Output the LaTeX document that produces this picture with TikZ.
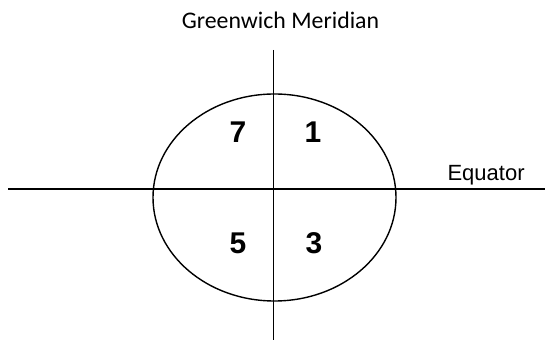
\documentclass[tikz,border=0pt]{standalone}
\usepackage{fontspec}
\setmainfont{Liberation Sans}
\newfontfamily\calibrifont{Carlito}
\usetikzlibrary{positioning}

\begin{document}
\begin{tikzpicture}[x=1pt,y=1pt,
      axis/.style={draw,line width=1.4pt},
      quad/.style={font=\fontsize{30}{30}\selectfont\bfseries,anchor=base},
      lbl/.style={font=\fontsize{22}{22}\selectfont,anchor=base}
    ]
    \useasboundingbox (0,0) rectangle (545,344);

    \coordinate (north) at (273.5,294);
    \coordinate (south) at (273.5,4);
    \coordinate (west) at (8,155);
    \coordinate (east) at (545,155);

    \draw[axis] (274.5,146.5) ellipse [x radius=121.5, y radius=103.5];
    \draw[axis] (north) -- (south);
    \draw[axis] (west) -- (east);

    \node[lbl,font=\fontsize{23.8}{24}\selectfont\calibrifont] (meridian) at (280.5,315) {Greenwich Meridian};
    \node[lbl,anchor=base west] (equator) at (444,163.3) {Equator};

    \node[quad] (q7) at (238,201.3) {7};
    \node[quad] (q1) at (313,201.3) {1};
    \node[quad] (q5) at (238,90.7) {5};
    \node[quad] (q3) at (314,90.7) {3};
  \end{tikzpicture}
\end{document}
